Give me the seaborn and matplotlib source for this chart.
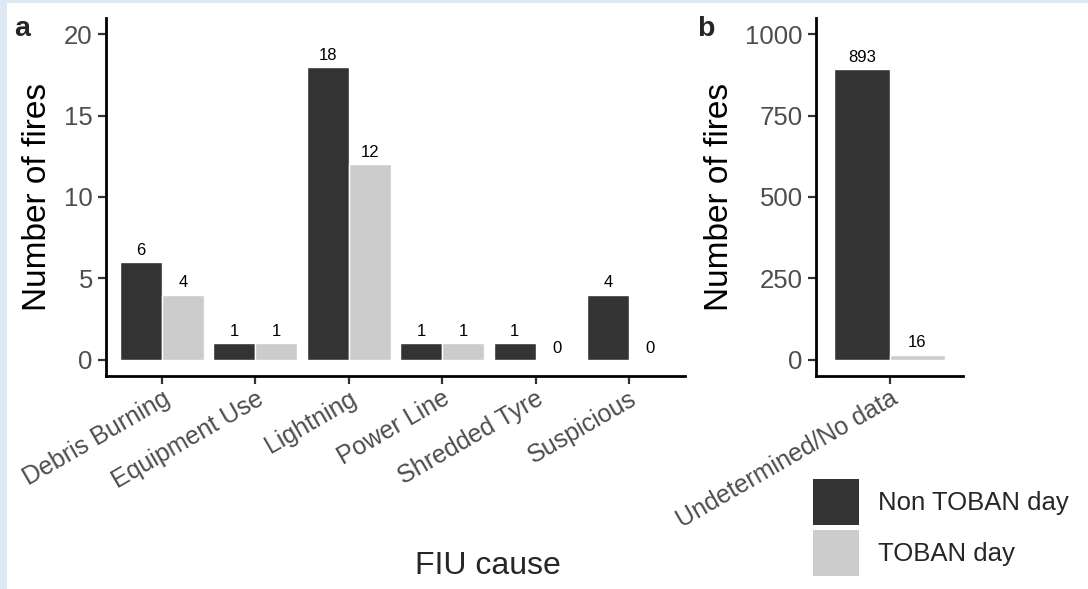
import pandas as pd
import numpy as np
import seaborn as sns
import matplotlib.pyplot as plt
from matplotlib.patches import Patch, Rectangle
from matplotlib.legend_handler import HandlerPatch

# data
causes = ["Debris Burning", "Equipment Use", "Lightning", "Power Line", "Shredded Tyre", "Suspicious"]
non_toban = [6, 1, 18, 1, 1, 4]
toban = [4, 1, 12, 1, 0, 0]
causes_b = ["Undetermined/No data"]
non_toban_b = [893]
toban_b = [16]
day_types = ["Non TOBAN day", "TOBAN day"]
colors = ["#333333", "#cccccc"]

df_a = pd.DataFrame({"cause": causes * 2,
                     "n": non_toban + toban,
                     "day": [day_types[0]] * len(causes) + [day_types[1]] * len(causes)})
df_b = pd.DataFrame({"cause": causes_b * 2,
                     "n": non_toban_b + toban_b,
                     "day": [day_types[0]] * len(causes_b) + [day_types[1]] * len(causes_b)})

sns.set_style("ticks")
plt.rcParams["font.family"] = ["Liberation Sans", "DejaVu Sans"]

W, H = 1088, 589
fig = plt.figure(figsize=(W / 100, H / 100), dpi=100)
fig.patch.set_facecolor("#dce8f4")
fig.add_artist(Rectangle((7 / W, 0), 1 - 7 / W, 1 - 3 / H, transform=fig.transFigure,
                         facecolor="white", edgecolor="none", zorder=-10))

bottom = 1 - 376 / H
height = (376 - 18) / H
ax_a = fig.add_axes([106 / W, bottom, 579 / W, height])
ax_b = fig.add_axes([816 / W, bottom, 147 / W, height])

for ax, d, lim, ticks in [(ax_a, df_a, (-1, 21), [0, 5, 10, 15, 20]),
                          (ax_b, df_b, (-50, 1050), [0, 250, 500, 750, 1000])]:
    sns.barplot(data=d, x="cause", y="n", hue="day", hue_order=day_types, palette=colors,
                saturation=1, width=0.9, errorbar=None, legend=False, ax=ax)
    for c in ax.containers:
        ax.bar_label(c, padding=3, fontsize=12, color="black")
    ncat = d["cause"].nunique()
    ax.set_xlim(-0.6, ncat - 0.4)
    ax.set_ylim(*lim)
    ax.set_yticks(ticks)
    ax.set_facecolor("white")
    for s in ["top", "right"]:
        ax.spines[s].set_visible(False)
    for s in ["left", "bottom"]:
        ax.spines[s].set_linewidth(2.0)
        ax.spines[s].set_color("black")
    ax.tick_params(axis="both", length=5.5, width=1.6, color="#333333", labelcolor="#4d4d4d")
    ax.tick_params(axis="y", labelsize=18.5, pad=4)
    ax.tick_params(axis="x", labelsize=18, pad=2)
    for lab in ax.get_xticklabels():
        lab.set_rotation(30)
        lab.set_ha("right")
        lab.set_rotation_mode("anchor")
    ax.set_xlabel("")
    ax.set_ylabel("Number of fires", fontsize=24, color="black")

ax_a.yaxis.set_label_coords((53 - 106) / 579, 0.5)
ax_b.yaxis.set_label_coords((735 - 816) / 147, 0.5)

fig.text(488 / W, 1 - 566 / H, "FIU cause", fontsize=23, ha="center", va="center")
fig.text(14 / W, 1 - 36 / H, "a", fontsize=20.5, fontweight="bold", va="baseline")
fig.text(697 / W, 1 - 36 / H, "b", fontsize=20.5, fontweight="bold", va="baseline")


# square keys filling the handle box
def square_key(legend, orig_handle, xdescent, ydescent, width, height, fontsize):
    return Rectangle((-xdescent, -ydescent), width, height)


handles = [Patch(facecolor=c, edgecolor="none") for c in colors]
fig.legend(handles, day_types, loc="upper left", bbox_to_anchor=(813 / W, 1 - 479 / H),
           frameon=False, fontsize=18.5, handlelength=1.79, handleheight=2.377,
           handletextpad=0.75, labelspacing=0.2, borderpad=0, borderaxespad=0,
           handler_map={Patch: HandlerPatch(patch_func=square_key)})

plt.savefig("out.png", dpi=100)
